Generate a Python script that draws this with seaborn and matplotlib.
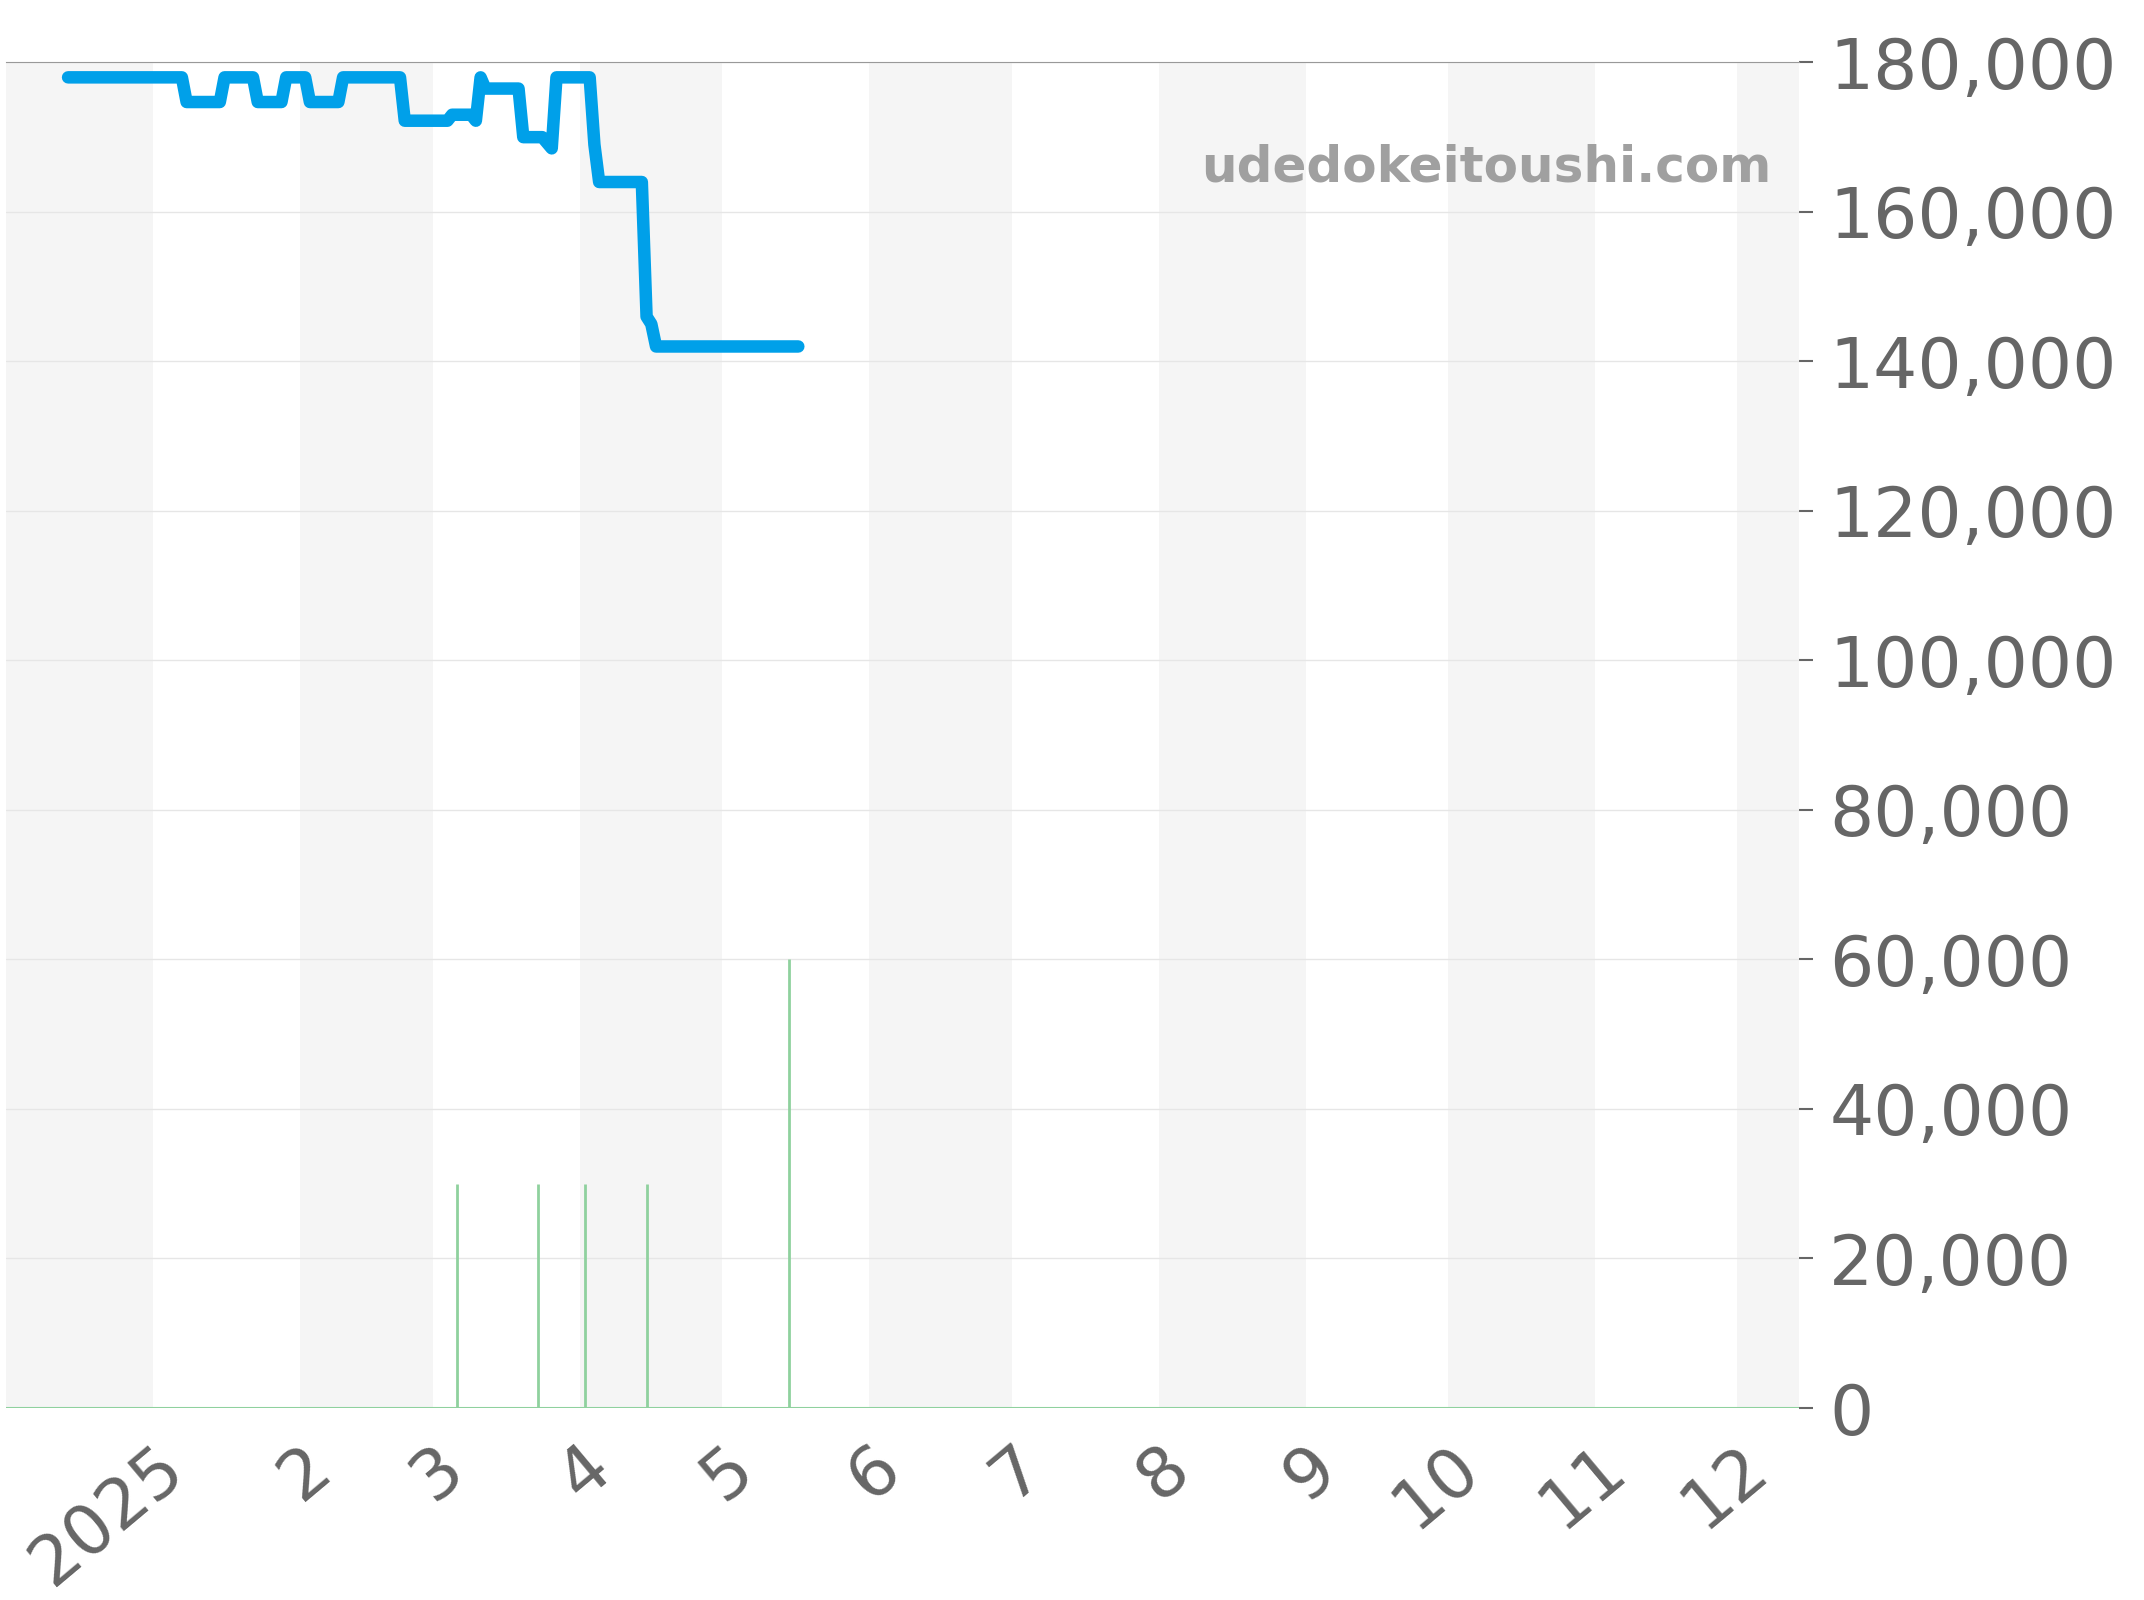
import pandas as pd
import numpy as np
import seaborn as sns
import matplotlib.pyplot as plt
import matplotlib.dates as mdates
from matplotlib.ticker import FuncFormatter

# price line
price_dates = ["2024-12-14", "2025-01-07", "2025-01-08", "2025-01-15", "2025-01-16", "2025-01-22",
               "2025-01-23", "2025-01-28", "2025-01-29", "2025-02-02", "2025-02-03", "2025-02-09",
               "2025-02-10", "2025-02-22", "2025-02-23", "2025-03-04", "2025-03-05", "2025-03-09",
               "2025-03-10", "2025-03-11", "2025-03-12", "2025-03-19", "2025-03-20", "2025-03-24",
               "2025-03-26", "2025-03-27", "2025-04-03", "2025-04-04", "2025-04-05", "2025-04-14",
               "2025-04-15", "2025-04-16", "2025-04-17", "2025-05-17"]
price_values = [178000, 178000, 174700, 174700, 178000, 178000,
                174700, 174700, 178000, 178000, 174700, 174700,
                178000, 178000, 172200, 172200, 173000, 173000,
                172200, 178000, 176500, 176500, 170000, 170000,
                168500, 178000, 178000, 169000, 164000, 164000,
                146000, 145000, 142000, 142000]

# volume bars
volume_dates = ["2025-03-06", "2025-03-23", "2025-04-02", "2025-04-15", "2025-05-15"]
volume_values = [30000, 30000, 30000, 30000, 60000]

month_ticks = pd.date_range("2025-01-01", "2025-12-01", freq="MS")
month_labels = ["2025"] + [str(m) for m in range(2, 13)]

df = pd.DataFrame({"date": pd.to_datetime(price_dates), "price": price_values})

sns.set_style("white")
plt.rcParams['font.family'] = ['DejaVu Sans']
fig = plt.figure(figsize=(21.44, 16), dpi=100)
ax = fig.add_axes([0.003, 0.12, 0.836, 0.841])

x0, x1 = pd.Timestamp("2024-12-01"), pd.Timestamp("2025-12-14")
# alternating month bands
starts = pd.date_range("2024-12-01", "2025-12-01", freq="MS")
for i, s in enumerate(starts):
    if i % 2 == 0:
        ax.axvspan(s, s + pd.offsets.MonthBegin(1), color="#f5f5f5", lw=0, zorder=0)

for yv in range(20000, 180001, 20000):
    ax.axhline(yv, color="#e6e6e6", lw=1, zorder=1)

ax.vlines(pd.to_datetime(volume_dates), 0, volume_values, color="#8fd19e", lw=2, zorder=2)
ax.axhline(0, color="#8fd19e", lw=1.5, zorder=2)

sns.lineplot(data=df, x="date", y="price", ax=ax, color="#00a0e9", lw=9, zorder=3)

ax.set_xlim(x0, x1)
ax.set_ylim(0, 180000)
ax.set_xlabel("")
ax.set_ylabel("")
ax.yaxis.tick_right()
ax.set_yticks(range(0, 180001, 20000))
ax.yaxis.set_major_formatter(FuncFormatter(lambda v, p: f"{int(v):,}"))
ax.set_xticks(month_ticks)
ax.set_xticklabels(month_labels, rotation=40, ha="right", rotation_mode="anchor")
ax.tick_params(axis="both", colors="#666666", labelsize=50, length=10, width=1.5)
ax.tick_params(axis="y", pad=12)
ax.tick_params(axis="x", pad=8, labelcolor="#666666")
for side in ["left", "right", "bottom"]:
    ax.spines[side].set_visible(False)
ax.spines["top"].set_color("#999999")

ax.text(0.985, 0.94, "udedokeitoushi.com", transform=ax.transAxes, ha="right", va="top",
        fontsize=36, fontweight="bold", color="#a0a0a0")

fig.savefig("out.png", dpi=100)
